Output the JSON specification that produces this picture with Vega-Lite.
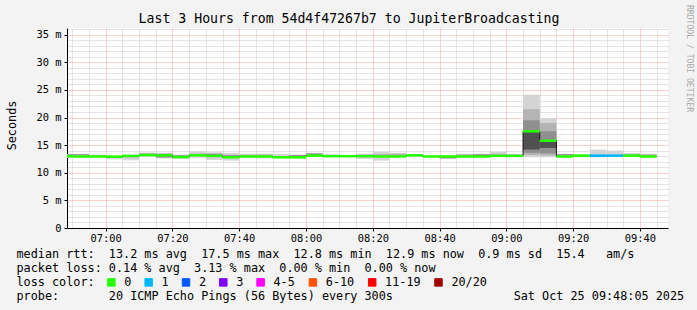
{
"$schema": "https://vega.github.io/schema/vega-lite/v6.json",
"width": 601, "height": 200,
"autosize": {"type": "none"},
"padding": {"left": 67, "top": 28, "right": 29, "bottom": 82},
"background": "#f3f3f3",
"title": {"text": "Last 3 Hours from 54d4f47267b7 to JupiterBroadcasting", "font": "DejaVu Sans Mono", "fontSize": 13.2, "fontWeight": "normal", "color": "#000000", "anchor": "middle", "frame": "bounds", "offset": -22},
"config": {
  "view": {"fill": "#ffffff", "stroke": null},
  "axis": {"labelFont": "DejaVu Sans Mono", "titleFont": "DejaVu Sans Mono", "labelColor": "#000000", "titleColor": "#000000", "titleFontWeight": "normal"}
},
"data": {"values": [
{"t0":"2025-10-25T06:45","t1":"2025-10-25T06:50","med":13.0,"loss":"0","a0":12.7,"a1":13.4,"b0":13.0,"b1":13.0,"c0":13.0,"c1":13.35,"d0":13.0,"d1":13.0},
{"t0":"2025-10-25T06:50","t1":"2025-10-25T06:55","med":12.95,"loss":"0","a0":12.8,"a1":13.35,"b0":12.95,"b1":12.95,"c0":13.1,"c1":13.35,"d0":12.95,"d1":12.95},
{"t0":"2025-10-25T06:55","t1":"2025-10-25T07:00","med":12.95,"loss":"0","a0":12.85,"a1":13.3,"b0":12.95,"b1":12.95,"c0":12.95,"c1":12.95,"d0":12.95,"d1":12.95},
{"t0":"2025-10-25T07:00","t1":"2025-10-25T07:05","med":12.9,"loss":"0","a0":12.45,"a1":13.1,"b0":12.65,"b1":12.9,"c0":12.9,"c1":12.9,"d0":12.9,"d1":12.9},
{"t0":"2025-10-25T07:05","t1":"2025-10-25T07:10","med":13.05,"loss":"0","a0":12.25,"a1":13.15,"b0":13.05,"b1":13.05,"c0":12.8,"c1":12.95,"d0":13.05,"d1":13.05},
{"t0":"2025-10-25T07:10","t1":"2025-10-25T07:15","med":13.2,"loss":"0","a0":12.95,"a1":13.65,"b0":13.1,"b1":13.55,"c0":13.2,"c1":13.2,"d0":13.2,"d1":13.2},
{"t0":"2025-10-25T07:15","t1":"2025-10-25T07:20","med":13.15,"loss":"0","a0":12.6,"a1":13.6,"b0":13.1,"b1":13.5,"c0":12.75,"c1":13.0,"d0":13.15,"d1":13.15},
{"t0":"2025-10-25T07:20","t1":"2025-10-25T07:25","med":12.85,"loss":"0","a0":12.5,"a1":13.3,"b0":12.85,"b1":12.85,"c0":12.9,"c1":13.15,"d0":12.85,"d1":12.85},
{"t0":"2025-10-25T07:25","t1":"2025-10-25T07:30","med":13.15,"loss":"0","a0":12.7,"a1":13.9,"b0":13.2,"b1":13.5,"c0":13.15,"c1":13.15,"d0":13.15,"d1":13.15},
{"t0":"2025-10-25T07:30","t1":"2025-10-25T07:35","med":13.05,"loss":"0","a0":12.3,"a1":13.7,"b0":12.8,"b1":13.5,"c0":13.1,"c1":13.4,"d0":13.05,"d1":13.05},
{"t0":"2025-10-25T07:35","t1":"2025-10-25T07:40","med":12.8,"loss":"0","a0":12.2,"a1":13.6,"b0":12.8,"b1":12.8,"c0":12.9,"c1":13.2,"d0":12.8,"d1":12.8},
{"t0":"2025-10-25T07:40","t1":"2025-10-25T07:45","med":12.95,"loss":"0","a0":12.9,"a1":13.4,"b0":13.0,"b1":13.25,"c0":12.95,"c1":12.95,"d0":12.95,"d1":12.95},
{"t0":"2025-10-25T07:45","t1":"2025-10-25T07:50","med":12.95,"loss":"0","a0":12.6,"a1":13.45,"b0":13.0,"b1":13.3,"c0":12.95,"c1":12.95,"d0":12.95,"d1":12.95},
{"t0":"2025-10-25T07:50","t1":"2025-10-25T07:55","med":12.8,"loss":"0","a0":12.7,"a1":13.4,"b0":12.8,"b1":12.8,"c0":12.8,"c1":12.8,"d0":12.8,"d1":12.8},
{"t0":"2025-10-25T07:55","t1":"2025-10-25T08:00","med":12.8,"loss":"0","a0":12.6,"a1":13.3,"b0":12.8,"b1":12.8,"c0":12.9,"c1":13.2,"d0":12.8,"d1":12.8},
{"t0":"2025-10-25T08:00","t1":"2025-10-25T08:05","med":13.1,"loss":"0","a0":12.9,"a1":13.6,"b0":13.1,"b1":13.1,"c0":13.15,"c1":13.5,"d0":13.1,"d1":13.1},
{"t0":"2025-10-25T08:05","t1":"2025-10-25T08:10","med":13.0,"loss":"0","a0":12.9,"a1":13.35,"b0":13.0,"b1":13.0,"c0":13.0,"c1":13.0,"d0":13.0,"d1":13.0},
{"t0":"2025-10-25T08:10","t1":"2025-10-25T08:15","med":13.0,"loss":"0","a0":12.95,"a1":13.05,"b0":13.0,"b1":13.0,"c0":13.0,"c1":13.0,"d0":13.0,"d1":13.0},
{"t0":"2025-10-25T08:15","t1":"2025-10-25T08:20","med":13.0,"loss":"0","a0":12.5,"a1":13.45,"b0":13.05,"b1":13.3,"c0":13.0,"c1":13.0,"d0":13.0,"d1":13.0},
{"t0":"2025-10-25T08:20","t1":"2025-10-25T08:25","med":12.95,"loss":"0","a0":12.2,"a1":13.8,"b0":13.0,"b1":13.4,"c0":12.95,"c1":12.95,"d0":12.95,"d1":12.95},
{"t0":"2025-10-25T08:25","t1":"2025-10-25T08:30","med":12.95,"loss":"0","a0":12.85,"a1":13.6,"b0":13.0,"b1":13.45,"c0":12.95,"c1":12.95,"d0":12.95,"d1":12.95},
{"t0":"2025-10-25T08:30","t1":"2025-10-25T08:35","med":13.15,"loss":"0","a0":13.0,"a1":13.4,"b0":13.15,"b1":13.15,"c0":13.15,"c1":13.15,"d0":13.15,"d1":13.15},
{"t0":"2025-10-25T08:35","t1":"2025-10-25T08:40","med":12.95,"loss":"0","a0":12.85,"a1":13.1,"b0":12.95,"b1":12.95,"c0":12.95,"c1":12.95,"d0":12.95,"d1":12.95},
{"t0":"2025-10-25T08:40","t1":"2025-10-25T08:45","med":12.95,"loss":"0","a0":12.5,"a1":13.1,"b0":12.95,"b1":12.95,"c0":12.6,"c1":12.85,"d0":12.95,"d1":12.95},
{"t0":"2025-10-25T08:45","t1":"2025-10-25T08:50","med":12.95,"loss":"0","a0":12.85,"a1":13.4,"b0":13.0,"b1":13.35,"c0":12.95,"c1":12.95,"d0":12.95,"d1":12.95},
{"t0":"2025-10-25T08:50","t1":"2025-10-25T08:55","med":12.95,"loss":"0","a0":12.85,"a1":13.4,"b0":12.95,"b1":12.95,"c0":13.0,"c1":13.35,"d0":12.95,"d1":12.95},
{"t0":"2025-10-25T08:55","t1":"2025-10-25T09:00","med":13.05,"loss":"0","a0":12.9,"a1":13.8,"b0":13.1,"b1":13.45,"c0":13.05,"c1":13.05,"d0":13.05,"d1":13.05},
{"t0":"2025-10-25T09:00","t1":"2025-10-25T09:05","med":13.05,"loss":"0","a0":12.9,"a1":13.4,"b0":13.1,"b1":13.3,"c0":13.05,"c1":13.05,"d0":13.05,"d1":13.05},
{"t0":"2025-10-25T09:05","t1":"2025-10-25T09:10","med":17.5,"loss":"0","a0":12.8,"a1":24.1,"b0":13.2,"b1":21.5,"c0":13.6,"c1":19.5,"d0":14.2,"d1":17.5},
{"t0":"2025-10-25T09:10","t1":"2025-10-25T09:15","med":15.8,"loss":"0","a0":12.8,"a1":19.9,"b0":13.1,"b1":19.0,"c0":13.5,"c1":17.5,"d0":14.5,"d1":15.8},
{"t0":"2025-10-25T09:15","t1":"2025-10-25T09:20","med":12.95,"loss":"0","a0":12.85,"a1":13.4,"b0":12.95,"b1":12.95,"c0":13.1,"c1":13.35,"d0":12.95,"d1":12.95},
{"t0":"2025-10-25T09:20","t1":"2025-10-25T09:25","med":13.1,"loss":"0","a0":12.8,"a1":13.3,"b0":13.1,"b1":13.1,"c0":12.85,"c1":12.95,"d0":13.1,"d1":13.1},
{"t0":"2025-10-25T09:25","t1":"2025-10-25T09:30","med":13.1,"loss":"1","a0":12.8,"a1":14.2,"b0":13.1,"b1":13.1,"c0":12.85,"c1":13.0,"d0":13.1,"d1":13.1},
{"t0":"2025-10-25T09:30","t1":"2025-10-25T09:35","med":13.1,"loss":"1","a0":12.9,"a1":14.0,"b0":13.1,"b1":13.1,"c0":13.1,"c1":13.1,"d0":13.1,"d1":13.1},
{"t0":"2025-10-25T09:35","t1":"2025-10-25T09:40","med":13.1,"loss":"0","a0":12.95,"a1":13.5,"b0":13.2,"b1":13.45,"c0":13.1,"c1":13.1,"d0":13.1,"d1":13.1},
{"t0":"2025-10-25T09:40","t1":"2025-10-25T09:45","med":12.95,"loss":"0","a0":12.85,"a1":13.4,"b0":13.05,"b1":13.35,"c0":12.95,"c1":12.95,"d0":12.95,"d1":12.95}
]},
"resolve": {"axis": {"x": "independent", "y": "independent"}},
"layer": [
  {"mark": {"type": "rect", "fill": "#d4d4d4", "clip": true},
   "encoding": {
     "x": {"field": "t0", "type": "temporal",
           "scale": {"domain": ["2025-10-25T06:48:25", "2025-10-25T09:48:25"]},
           "axis": {"orient": "top", "labels": false, "ticks": false, "domain": false, "grid": true, "gridColor": "#c8c8c8", "gridDash": [1, 1], "title": null,
                    "values": [
                      {"year":2025,"month":10,"date":25,"hours":6,"minutes":50},{"year":2025,"month":10,"date":25,"hours":6,"minutes":55},
                      {"year":2025,"month":10,"date":25,"hours":7,"minutes":5},{"year":2025,"month":10,"date":25,"hours":7,"minutes":10},{"year":2025,"month":10,"date":25,"hours":7,"minutes":15},
                      {"year":2025,"month":10,"date":25,"hours":7,"minutes":25},{"year":2025,"month":10,"date":25,"hours":7,"minutes":30},{"year":2025,"month":10,"date":25,"hours":7,"minutes":35},
                      {"year":2025,"month":10,"date":25,"hours":7,"minutes":45},{"year":2025,"month":10,"date":25,"hours":7,"minutes":50},{"year":2025,"month":10,"date":25,"hours":7,"minutes":55},
                      {"year":2025,"month":10,"date":25,"hours":8,"minutes":5},{"year":2025,"month":10,"date":25,"hours":8,"minutes":10},{"year":2025,"month":10,"date":25,"hours":8,"minutes":15},
                      {"year":2025,"month":10,"date":25,"hours":8,"minutes":25},{"year":2025,"month":10,"date":25,"hours":8,"minutes":30},{"year":2025,"month":10,"date":25,"hours":8,"minutes":35},
                      {"year":2025,"month":10,"date":25,"hours":8,"minutes":45},{"year":2025,"month":10,"date":25,"hours":8,"minutes":50},{"year":2025,"month":10,"date":25,"hours":8,"minutes":55},
                      {"year":2025,"month":10,"date":25,"hours":9,"minutes":5},{"year":2025,"month":10,"date":25,"hours":9,"minutes":10},{"year":2025,"month":10,"date":25,"hours":9,"minutes":15},
                      {"year":2025,"month":10,"date":25,"hours":9,"minutes":25},{"year":2025,"month":10,"date":25,"hours":9,"minutes":30},{"year":2025,"month":10,"date":25,"hours":9,"minutes":35},
                      {"year":2025,"month":10,"date":25,"hours":9,"minutes":45}]}},
     "x2": {"field": "t1"},
     "y": {"field": "a0", "type": "quantitative", "scale": {"domain": [0, 36.2], "nice": false},
           "axis": {"orient": "right", "values": [1,2,3,4,6,7,8,9,11,12,13,14,16,17,18,19,21,22,23,24,26,27,28,29,31,32,33,34,36], "labels": false, "ticks": false, "domain": false, "grid": true, "gridColor": "#c8c8c8", "gridDash": [1, 1],
                    "title": "RRDTOOL / TOBI OETIKER", "titleFontSize": 8.1, "titleColor": "#aaaaaa", "titleX": 20, "titleY": 30, "titleAngle": 90, "titleAlign": "center", "titleBaseline": "middle"}},
     "y2": {"field": "a1"}}},
  {"mark": {"type": "rect", "fill": "#b4b4b4", "clip": true},
   "encoding": {"x": {"field": "t0", "type": "temporal", "axis": null}, "x2": {"field": "t1"}, "y": {"field": "b0", "type": "quantitative", "axis": null}, "y2": {"field": "b1"}}},
  {"mark": {"type": "rect", "fill": "#8f8f8f", "clip": true},
   "encoding": {"x": {"field": "t0", "type": "temporal", "axis": null}, "x2": {"field": "t1"}, "y": {"field": "c0", "type": "quantitative", "axis": null}, "y2": {"field": "c1"}}},
  {"mark": {"type": "rect", "fill": "#505050", "clip": true},
   "encoding": {"x": {"field": "t0", "type": "temporal", "axis": null}, "x2": {"field": "t1"}, "y": {"field": "d0", "type": "quantitative", "axis": null}, "y2": {"field": "d1"}}},
  {"mark": {"type": "line", "interpolate": "step-before", "color": "#1a1a1a", "strokeWidth": 1, "clip": true},
   "encoding": {
     "x": {"field": "t1", "type": "temporal",
           "axis": {"orient": "bottom", "format": "%H:%M", "labelFontSize": 10.4, "labelPadding": 2, "tickSize": 3, "tickColor": "#000000", "domainColor": "#000000", "labelFlush": false, "labelOverlap": false,
                    "values": [
                      {"year":2025,"month":10,"date":25,"hours":7,"minutes":0},{"year":2025,"month":10,"date":25,"hours":7,"minutes":20},{"year":2025,"month":10,"date":25,"hours":7,"minutes":40},
                      {"year":2025,"month":10,"date":25,"hours":8,"minutes":0},{"year":2025,"month":10,"date":25,"hours":8,"minutes":20},{"year":2025,"month":10,"date":25,"hours":8,"minutes":40},
                      {"year":2025,"month":10,"date":25,"hours":9,"minutes":0},{"year":2025,"month":10,"date":25,"hours":9,"minutes":20},{"year":2025,"month":10,"date":25,"hours":9,"minutes":40}],
                    "grid": true, "gridColor": "#f08080", "gridOpacity": 0.75, "gridDash": [1, 1],
                    "title": ["median rtt:\u00a0\u00a013.2 ms avg\u00a0\u00a017.5 ms max\u00a0\u00a012.8 ms min\u00a0\u00a012.9 ms now\u00a0\u00a00.9 ms sd\u00a0\u00a015.4\u00a0\u00a0\u00a0am/s",
                              "packet loss:\u00a00.14 % avg\u00a0\u00a03.13 % max\u00a0\u00a00.00 % min\u00a0\u00a00.00 % now",
                              "loss color:",
                              "probe:\u00a0\u00a0\u00a0\u00a0\u00a0\u00a0\u00a020 ICMP Echo Pings (56 Bytes) every 300s\u00a0\u00a0\u00a0\u00a0\u00a0\u00a0\u00a0\u00a0\u00a0\u00a0\u00a0\u00a0\u00a0\u00a0\u00a0\u00a0\u00a0Sat Oct 25 09:48:05 2025"],
                    "titleFontSize": 11.8, "titleAnchor": "start", "titleAlign": "left", "titleBaseline": "alphabetic", "titleX": -51, "titleY": 29.3, "titleLineHeight": 14}},
     "y": {"field": "med", "type": "quantitative",
           "axis": {"orient": "left", "values": [0, 5, 10, 15, 20, 25, 30, 35], "labelExpr": "datum.value == 0 ? '0' : datum.value + ' m'", "labelFontSize": 10.4, "tickSize": 3, "labelPadding": 3, "tickColor": "#000000", "domainColor": "#000000",
                    "grid": true, "gridColor": "#f08080", "gridOpacity": 0.75, "gridDash": [1, 1],
                    "title": "Seconds", "titleFontSize": 11.8, "titleX": -56, "titleY": 97, "titleAngle": -90, "titleAlign": "center", "titleBaseline": "middle"}}}},
  {"mark": {"type": "rule", "strokeWidth": 2.5, "clip": true},
   "encoding": {
     "x": {"field": "t0", "type": "temporal", "axis": null}, "x2": {"field": "t1"},
     "y": {"field": "med", "type": "quantitative", "axis": null},
     "color": {"field": "loss", "type": "nominal",
               "scale": {"domain": ["0", "1", "2", "3", "4-5", "6-10", "11-19", "20/20"], "range": ["#26ff00", "#00b8ff", "#0059ff", "#7e00ff", "#ff00ff", "#ff5500", "#ff0000", "#a10000"]},
               "legend": {"orient": "none", "legendX": 38.5, "legendY": 248.5, "direction": "horizontal", "columns": 8, "gridAlign": "none", "title": null, "symbolType": "square", "symbolSize": 56, "symbolStrokeColor": "#000000", "symbolStrokeWidth": 1, "labelFont": "DejaVu Sans Mono", "labelFontSize": 11.8, "labelColor": "#000000", "labelOffset": 7, "columnPadding": 11.3, "padding": 0,
                          "encode": {"symbols": {"update": {"fill": {"scale": "color", "field": "value"}, "stroke": {"value": "#000000"}}}}}}}}
]
}
